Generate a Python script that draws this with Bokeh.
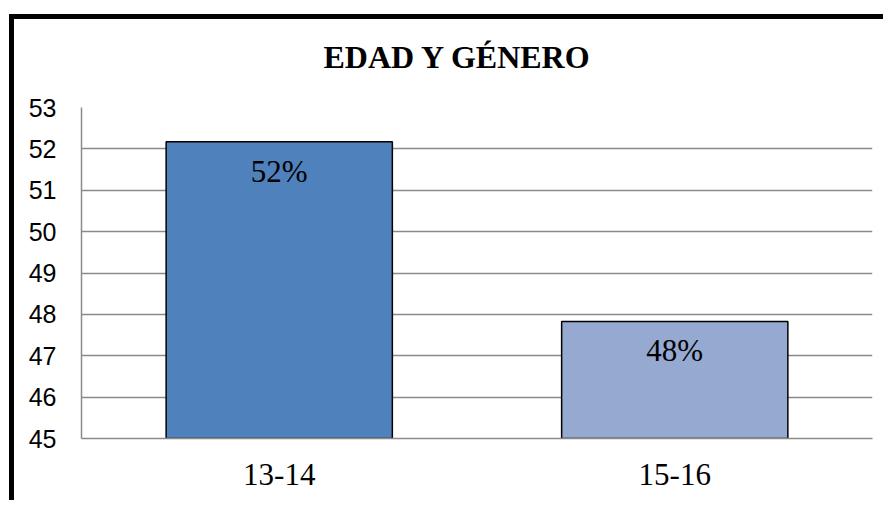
from bokeh.plotting import figure
from bokeh.models import ColumnDataSource, FactorRange, Range1d, FixedTicker, Title
from bokeh.embed import file_html
from bokeh.resources import INLINE
from bokeh.core.properties import value

# ---- data ----
categories = ["13-14", "15-16"]
values = [52.17, 47.83]
labels = ["52%", "48%"]
colors = ["#4F81BD", "#95A9D1"]
y_ticks = [45, 46, 47, 48, 49, 50, 51, 52, 53]
title_text = "EDAD Y GÉNERO"

src = ColumnDataSource(dict(cat=categories, val=values, lab=labels, col=colors,
                            base=[y_ticks[0]] * len(categories)))

p = figure(width=874, height=486, x_range=FactorRange(*categories, range_padding=0),
           y_range=Range1d(y_ticks[0], y_ticks[-1]),
           output_backend="svg", toolbar_location=None,
           min_border_left=67, min_border_right=16, min_border_top=88, min_border_bottom=67)

p.styles = {"border-left": "5px solid black", "border-top": "5px solid black",
            "margin-top": "14px", "margin-left": "9px"}

p.vbar(x="cat", top="val", bottom="base", width=0.572, source=src,
       fill_color="col", line_color="black", line_width=1.5)

p.text(x="cat", y="val", text="lab", source=src, text_align="center",
       text_baseline="middle", y_offset=29.5, text_font=value("Liberation Serif"),
       text_font_size="31px", text_color="black")

# empty spacer between the plotting area and the title
spacer = Title(text=" ", text_font_size="1px", standoff=30)
p.add_layout(spacer, "above")

p.title.text = title_text
p.title.text_font = "Liberation Serif"
p.title.text_font_size = "32px"
p.title.text_font_style = "bold"
p.title.text_color = "black"
p.title.align = "left"
p.title.offset = 242
p.title.standoff = 0

p.outline_line_color = None
p.background_fill_color = "white"
p.border_fill_color = "white"

p.xgrid.grid_line_color = None
p.ygrid.grid_line_color = "#8A8A8A"
p.ygrid.grid_line_width = 1.5
p.yaxis.ticker = FixedTicker(ticks=y_ticks)

p.yaxis.axis_line_color = "#8A8A8A"
p.yaxis.axis_line_width = 1.5
p.yaxis.major_tick_line_color = None
p.yaxis.minor_tick_line_color = None
p.yaxis.major_label_text_font = "Liberation Sans"
p.yaxis.major_label_text_font_size = "25px"
p.yaxis.major_label_text_color = "black"
p.yaxis.major_label_standoff = 19

p.xaxis.axis_line_color = "#8A8A8A"
p.xaxis.axis_line_width = 1.5
p.xaxis.major_tick_line_color = None
p.xaxis.minor_tick_line_color = None
p.xaxis.major_label_text_font = "Liberation Serif"
p.xaxis.major_label_text_font_size = "31px"
p.xaxis.major_label_text_color = "black"
p.xaxis.major_label_standoff = 19

open("out.html", "w").write(file_html(p, INLINE))
